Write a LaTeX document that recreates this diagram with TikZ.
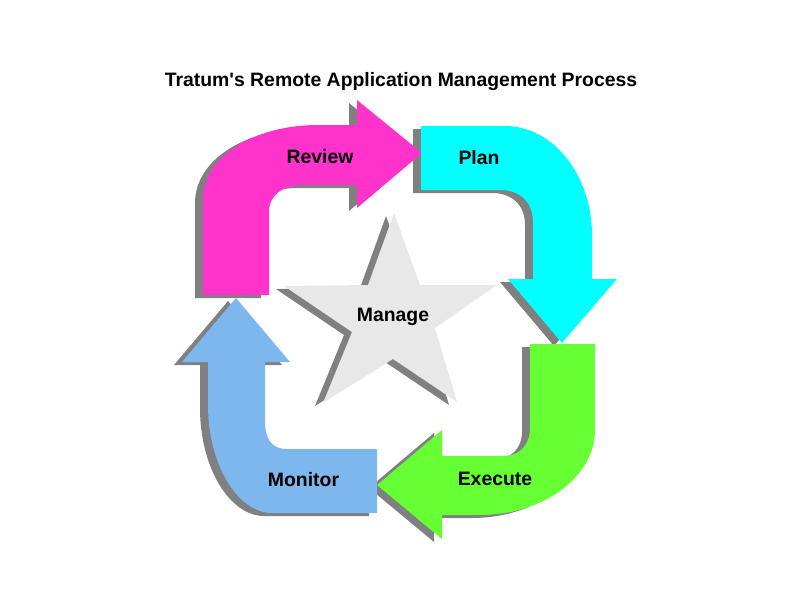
\documentclass[tikz,border=0pt]{standalone}
\usepackage{fontspec}
\setmainfont{Liberation Sans}[Ligatures=TeXOff]
\definecolor{cpink}{HTML}{FF33CC}
\definecolor{ccyan}{HTML}{00FFFF}
\definecolor{cgreen}{HTML}{66FF33}
\definecolor{cblue}{HTML}{7EB6EE}
\definecolor{cstar}{HTML}{E8E8E8}
\definecolor{cshadow}{HTML}{808080}
\tikzset{
  shadowfill/.style={fill=cshadow, draw=none, shift={(-8,3)}},
  lbl/.style={font=\bfseries\fontsize{19.4}{22}\selectfont, anchor=base, inner sep=0pt},
}
\newcommand{\pinkpath}{(203,295) -- (203,200) .. controls (203,156) and (255,125) .. (318,125) -- (357,125) -- (357,100) -- (422,153) -- (357,208) -- (357,185) -- (303,185) .. controls (283,185) and (269,195) .. (269,212) -- (269,295) -- cycle}
\newcommand{\cyanpath}{(421,126) -- (505,126) .. controls (553,126) and (592,175) .. (592,235) -- (592,279) -- (617,279) -- (562,343) -- (508,279) -- (533,279) -- (533,222) .. controls (533,202) and (520,190) .. (500,190) -- (421,190) -- cycle}
\newcommand{\greenpath}{(530,344) -- (595,344) -- (595,430) .. controls (595,477) and (543,515) .. (480,515) -- (442,515) -- (442,539) -- (377,485) -- (442,430) -- (442,456) -- (503,456) .. controls (520,456) and (530,445) .. (530,428) -- cycle}
\newcommand{\bluepath}{(377,449) -- (377,513) -- (272,513) .. controls (238,513) and (208,465) .. (208,405) -- (208,362) -- (182,362) -- (236,298) -- (290,362) -- (265,362) -- (265,420) .. controls (265,440) and (272,449) .. (287,449) -- cycle}
\newcommand{\starpath}{(394,213) -- (420,285) -- (497,285) -- (435,328) -- (457,402) -- (393,359) -- (323,403) -- (352,332) -- (284,286) -- (368,285) -- cycle}
\begin{document}
\begin{tikzpicture}[x=1pt,y=-1pt]
\useasboundingbox (0,0) rectangle (800,600);
% shadows
\fill[shadowfill] \pinkpath;
\fill[shadowfill] \cyanpath;
\fill[shadowfill] \greenpath;
\fill[shadowfill] \bluepath;
\fill[shadowfill] \starpath;
% fills
\fill[cstar] \starpath;
\fill[cpink] \pinkpath;
\fill[ccyan] \cyanpath;
\fill[cgreen] \greenpath;
\fill[cblue] \bluepath;
% labels
\node[lbl] (title) at (401,86.5) {Tratum's Remote Application Management Process};
\node[lbl] (review) at (320,163) {Review};
\node[lbl] (plan) at (479,164) {Plan};
\node[lbl] (execute) at (495,485.5) {Execute};
\node[lbl] (monitor) at (303.5,486.5) {Monitor};
\node[lbl] (manage) at (393,321.5) {Manage};
\end{tikzpicture}
\end{document}
